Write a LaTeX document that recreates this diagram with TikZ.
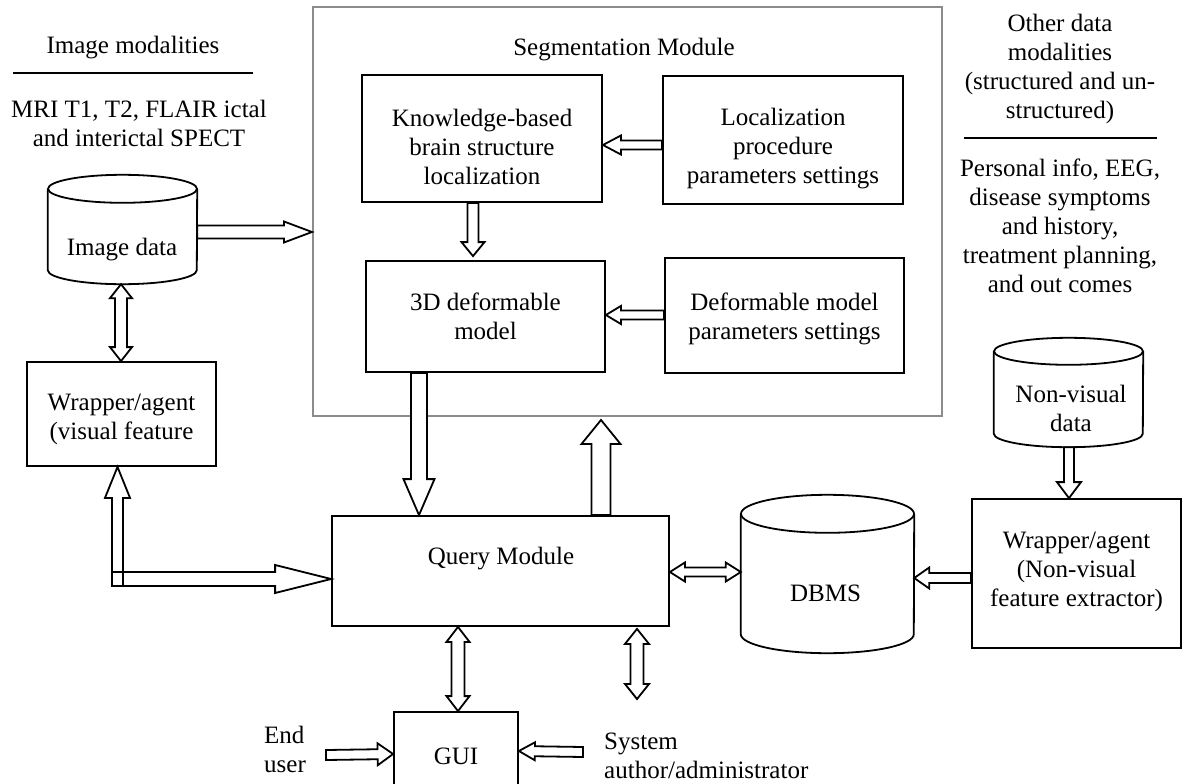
\documentclass[tikz,border=0pt]{standalone}
\usepackage{fontspec}
\setmainfont{Liberation Serif}
\usetikzlibrary{calc}

\tikzset{
  txt/.style={font=\fontsize{25pt}{29pt}\selectfont, align=center, inner sep=0pt},
  block/.style={txt, draw=black, line width=1.8pt},
  frame/.style={draw=black!45, line width=2pt, inner sep=0pt},
  outline/.style={draw=black, line width=1.8pt, line join=miter},
  hollow/.style={outline, fill=white},
  rule/.style={draw=black, line width=1.8pt},
  drum/.style={inner sep=0pt, draw=none},
}

% hollow block arrow from #2 to #3: half shaft #4, half head #5, head length #6
\newcommand\fatarrow[6][hollow]{%
  \path let \p1=(#2), \p2=(#3),
     \n1={atan2(\y2-\y1,\x2-\x1)}, \n2={veclen(\x2-\x1,\y2-\y1)} in
     \pgfextra{\xdef\fatang{\n1}\xdef\fatlen{\n2}\xdef\fatx{\x1}\xdef\faty{\y1}};
  \draw[#1, shift={(\fatx,\faty)}, rotate=\fatang]
    (0,#4) -- ({\fatlen-#6},#4) -- ({\fatlen-#6},#5) -- (\fatlen,0)
    -- ({\fatlen-#6},-#5) -- ({\fatlen-#6},-#4) -- (0,-#4) -- cycle;
}
% the same with a head at both ends
\newcommand\fatdouble[6][hollow]{%
  \path let \p1=(#2), \p2=(#3),
     \n1={atan2(\y2-\y1,\x2-\x1)}, \n2={veclen(\x2-\x1,\y2-\y1)} in
     \pgfextra{\xdef\fatang{\n1}\xdef\fatlen{\n2}\xdef\fatx{\x1}\xdef\faty{\y1}};
  \draw[#1, shift={(\fatx,\faty)}, rotate=\fatang]
    (0,0) -- (#6,#5) -- (#6,#4) -- ({\fatlen-#6},#4) -- ({\fatlen-#6},#5)
    -- (\fatlen,0) -- ({\fatlen-#6},-#5) -- ({\fatlen-#6},-#4) -- (#6,-#4)
    -- (#6,-#5) -- cycle;
}
% database drum around a node: node name, x radius, y radius
\newcommand\drumoutline[3]{%
  \draw[outline] ($(#1.north west)+(0,-#3)$) -- ($(#1.south west)+(0,#3)$)
     arc[start angle=180, end angle=360, x radius=#2, y radius=#3]
     -- ($(#1.north east)+(0,-#3)$);
  \draw[outline] ($(#1.north)+(0,-#3)$) ellipse [x radius=#2, y radius=#3];
}

\begin{document}
\begin{tikzpicture}[x=1pt,y=1pt]
\useasboundingbox (0,0) rectangle (1183,-784);

% image modalities
\node[txt] (imgmod) at (133,-48) {Image modalities};
\draw[rule] (13,-73) -- (253,-73);
\node[txt] (mri) at (139,-123) {MRI T1, T2, FLAIR ictal\\and interictal SPECT};

% other data modalities
\node[txt] (othermod) at (1060,-69) {Other data\\modalities\\(structured and un-\\structured)};
\draw[rule] (964,-138) -- (1157,-138);
\node[txt] (otherlist) at (1060,-225.5) {Personal info, EEG,\\disease symptoms\\and history,\\treatment planning,\\and out comes};

% segmentation module
\node[frame, minimum width=629pt, minimum height=409pt] (seg) at (627.5,-211.5) {};
\node[txt] (segtitle) at (624,-50) {Segmentation Module};
\node[block, minimum width=240pt, minimum height=127pt,
      label={[txt, yshift=-8pt]center:{Knowledge-based\\brain structure\\localization}}] (know) at (482,-138.5) {};
\node[block, minimum width=240pt, minimum height=128pt,
      label={[txt, yshift=-9pt]center:{Localization\\procedure\\parameters settings}}] (loc) at (783,-140) {};
\node[block, minimum width=239pt, minimum height=111pt] (def3d) at (485.5,-316.5) {3D deformable\\model};
\node[block, minimum width=239pt, minimum height=115pt,
      label={[txt, yshift=-3pt]center:{Deformable model\\parameters settings}}] (defp) at (784.5,-315.5) {};

% data sources and agents
\node[drum, minimum width=149pt, minimum height=109pt] (imgdata) at (122.5,-229.5) {};
\drumoutline{imgdata}{74.5}{14}
\node[txt] (imgdatatxt) at (122,-250) {Image data};
\node[block, minimum width=189pt, minimum height=104pt,
      label={[txt, yshift=-5pt]center:{Wrapper/agent\\(visual feature}}] (wrapL) at (121.5,-414) {};

\node[drum, minimum width=149pt, minimum height=109pt] (nonvis) at (1068.5,-392.5) {};
\drumoutline{nonvis}{74.5}{13.5}
\node[txt] (nonvistxt) at (1071,-408) {Non-visual\\data};
\node[block, minimum width=209pt, minimum height=149pt,
      label={[txt, yshift=2pt]center:{Wrapper/agent\\(Non-visual\\feature extractor)}}] (wrapR) at (1076.5,-573.5) {};

\node[drum, minimum width=173pt, minimum height=158pt] (dbms) at (827.5,-574) {};
\drumoutline{dbms}{86.5}{19}
\node[txt] (dbmstxt) at (825.5,-593) {DBMS};

% query module and interface
\node[block, minimum width=337pt, minimum height=110pt] (query) at (500.5,-571) {};
\node[txt] (querytxt) at (501,-559) {Query Module};
\node[block, minimum width=124pt, minimum height=88pt] (gui) at (456,-756) {GUI};
\node[txt, align=left, anchor=west] (enduser) at (264,-749) {End\\user};
\node[txt, align=left, anchor=west] (sysadm) at (604,-756) {System\\author/administrator};

% connectors
\fatarrow{$(imgdata.east)+(0,-2.5)$}{$(seg.west)+(0,-20.5)$}{6.5}{10.5}{28}
\fatarrow{$(loc.west)+(0,-5)$}{$(know.east)+(0,-6.5)$}{4.5}{9.5}{18}
\fatarrow{$(know.south)+(-9,0)$}{$(def3d.north)+(-12.5,4)$}{5.5}{11.5}{14}
\fatarrow{$(defp.west)+(0,0.5)$}{$(def3d.east)+(0,1.5)$}{4.5}{9}{15}
\fatarrow{$(def3d.south)+(-66.5,0)$}{$(query.north)+(-81.5,0)$}{8}{15.5}{36}
\fatarrow{$(query.north)+(100.5,0)$}{$(seg.south)+(-26.5,-3)$}{9.5}{19.5}{24}
\fatdouble{$(imgdata.south)+(-1.5,0)$}{$(wrapL.north)+(-0.5,0)$}{6}{11}{14}

\coordinate (lcorner) at (117.5,-579);
\fatarrow[outline]{$(lcorner)+(0,-7)$}{$(wrapL.south)+(-4,0)$}{5.5}{12.5}{31}
\fatarrow[outline]{$(lcorner)+(-5.5,0)$}{query.west |- lcorner}{7}{14}{56}

\fatdouble{$(query.east)+(0,-1)$}{$(dbms.west)+(0,2)$}{4.5}{9.5}{15}
\fatarrow{$(wrapR.west)+(0,-4.5)$}{$(dbms.east)+(0,-4)$}{5}{10.5}{15}
\fatarrow{$(nonvis.south)+(0.5,0)$}{$(wrapR.north)+(-7.5,0)$}{5}{12}{16}
\fatdouble{$(query.south)+(-42.5,0)$}{$(gui.north)+(2,0)$}{6.5}{11.5}{15}
\coordinate (adminlink) at (637,-699);
\fatdouble{$(query.south)+(136.5,-2)$}{adminlink}{6.5}{12}{15}
\fatarrow{$(enduser.east)+(20,-6)$}{$(gui.west)+(0,2)$}{5}{11}{15.5}
\fatarrow{$(sysadm.west)+(-21,4)$}{$(gui.east)+(0,5)$}{5}{9}{16}
\end{tikzpicture}
\end{document}
